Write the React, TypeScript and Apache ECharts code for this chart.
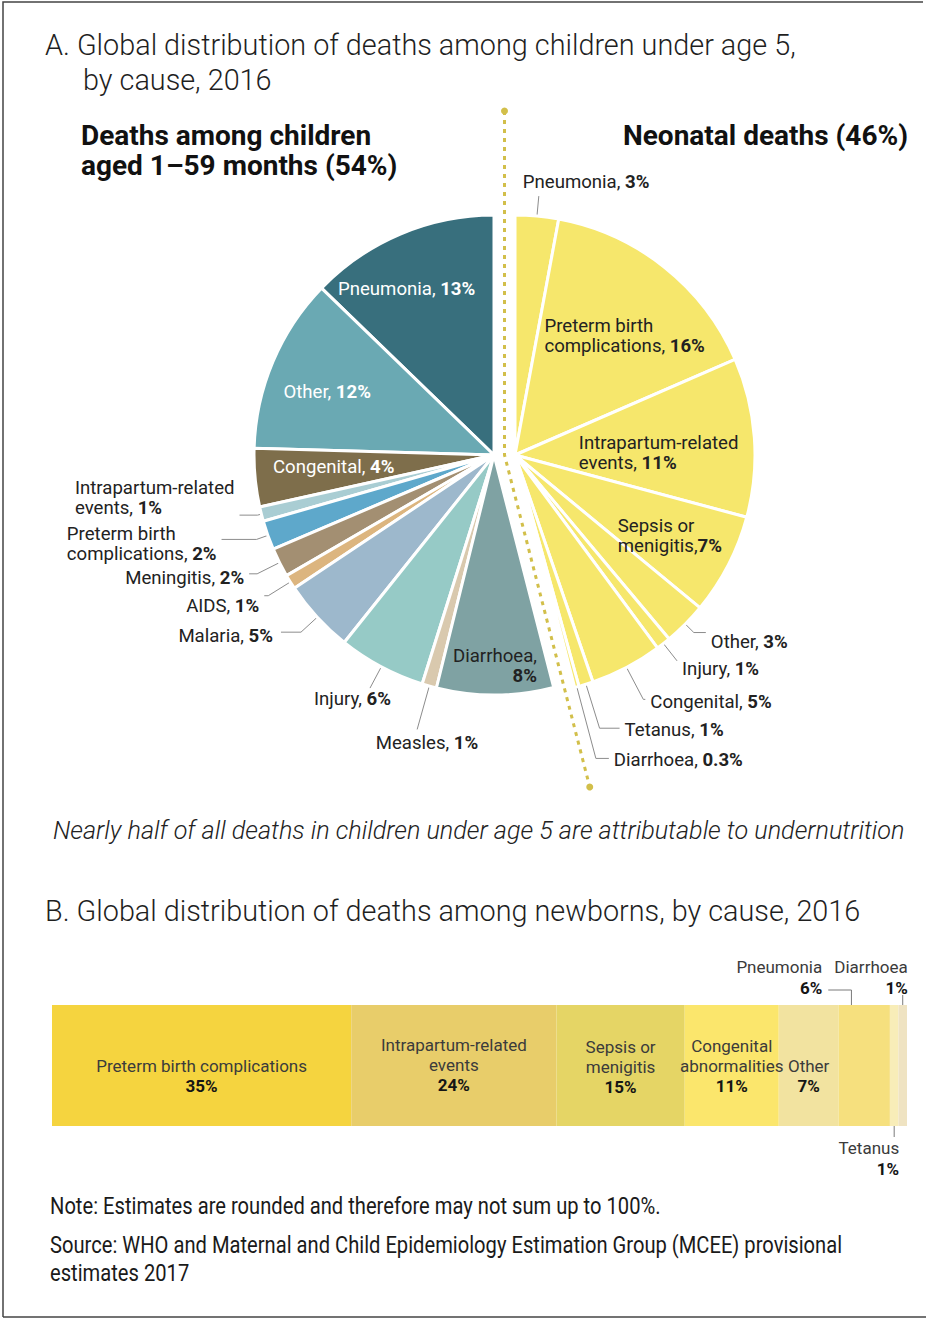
import React, { useEffect, useRef } from 'react';
import * as echarts from 'echarts';

// ---------------- Data ----------------
const childCauses = [
  'Pneumonia', 'Other', 'Congenital', 'Intrapartum-related\nevents', 'Preterm birth\ncomplications',
  'Meningitis', 'AIDS', 'Malaria', 'Injury', 'Measles', 'Diarrhoea',
];
const childValues = [13, 12, 4, 1, 2, 2, 1, 5, 6, 1, 8];
const childShare = 54;

const neonatalCauses = [
  'Pneumonia', 'Preterm birth\ncomplications', 'Intrapartum-related\nevents', 'Sepsis or\nmenigitis',
  'Other', 'Injury', 'Congenital', 'Tetanus', 'Diarrhoea',
];
const neonatalValues = [3, 16, 11, 7, 3, 1, 5, 1, 0.3];
const neonatalShare = 46;

const newbornCategory = ['Newborns'];
const newbornCauses = [
  'Preterm birth complications', 'Intrapartum-related\nevents', 'Sepsis or\nmenigitis',
  'Congenital\nabnormalities', 'Other', 'Pneumonia', 'Tetanus', 'Diarrhoea',
];
const newbornValues = [35, 24, 15, 11, 7, 6, 1, 1];

const noteLines = [
  'Note: Estimates are rounded and therefore may not sum up to 100%.',
  'Source: WHO and Maternal and Child Epidemiology Estimation Group (MCEE) provisional',
  'estimates 2017',
];

// ---------------- Styles / layout ----------------
const FONT = 'Roboto, "Noto Sans", sans-serif';
const PIE_R = 240;
const CHILD_CENTER: [number, number] = [494, 455];
const NEO_CENTER: [number, number] = [515, 455];
const DIVIDER_TOP = 111;
const DIVIDER_BOTTOM = 787;
const BAR_GRID = { left: 52, top: 1005, width: 855, height: 121 };
const PIE_FONT = 18.6;
const PIE_LH = 20;
const BAR_FONT = 17;
const NOTE_FONT = 24;
const NOTE_X = 50;
const NOTE_Y = [1205, 1244, 1272];
const NOTE_REF_WIDTH = 792; // width of the "Source" line

const childColors = [
  '#386f7d', '#6aa9b3', '#7e6e4b', '#a9cdd3', '#5ea8cb', '#a38f72',
  '#dcb57f', '#9db8cc', '#96cac6', '#d9c9ae', '#7fa2a3',
];
const neonatalColor = '#f6e76c';
const newbornColors = ['#f5d43f', '#e8cd6a', '#e5d565', '#fbe66c', '#f2e3a0', '#f6e07e', '#f8edb8', '#efe3c2'];
const dividerColor = '#d2bf4a';

type LabelCfg = {
  inside?: boolean; r?: number; len?: number; len2?: number; dx?: number; dy?: number;
  light?: boolean; align?: 'left' | 'right' | 'center'; pctBreak?: boolean; sep?: string;
};

const childLabelCfg: LabelCfg[] = [
  { inside: true, r: 188, light: true, dx: -14, dy: 7 },
  { inside: true, r: 181, light: true, dy: 7 },
  { inside: true, r: 161, light: true, dy: -3 },
  { len: 4, len2: 18, dy: -17 },
  { len: 12, len2: 35, dy: 5 },
  { len: 25, len2: 8, dy: 4 },
  { len: 26, len2: 4, dy: 10 },
  { len: 22, len2: 20, dx: -3, dy: 4 },
  { len: 24, len2: 0, dx: 26, dy: 11 },
  { len: 45, len2: 0, dx: 66, dy: 14 },
  { inside: true, r: 211, align: 'right', pctBreak: true },
];

const neonatalLabelCfg: LabelCfg[] = [
  { len: 20, len2: 0, dx: -21, dy: -14 },
  { inside: true, r: 160, dx: 10, dy: 6 },
  { inside: true, r: 140, dx: 4, dy: 8 },
  { inside: true, r: 172, sep: ',', dx: 2, dy: 2 },
  { len: 12, len2: 12, dy: 9 },
  { len: 22, len2: 0, dy: 8 },
  { len: 36, len2: 2, dy: 3 },
  { len: 46, len2: 20, dy: 2 },
  { len: 74, len2: 13, dy: 2 },
];

type BarCfg = { pos: string; align?: 'left' | 'right' | 'center'; dx?: number; dy?: number };
const newbornLabelCfg: BarCfg[] = [
  { pos: 'inside', dy: 10 },
  { pos: 'inside', dy: -1 },
  { pos: 'inside', dy: 1 },
  { pos: 'inside', dy: 0 },
  { pos: 'inside', dy: 10 },
  { pos: 'top', align: 'right', dx: -42, dy: -2 },
  { pos: 'bottom', align: 'right', dx: 5, dy: 6 },
  { pos: 'top', align: 'right', dx: 5, dy: -2 },
];

function pieLabel(name: string, value: number, cfg: LabelCfg): string {
  const lines = name.split('\n');
  const head = lines.slice(0, -1).map((l) => `{nm|${l}}`);
  const last = lines[lines.length - 1];
  const pct = `{pc|${value}%}`;
  if (cfg.pctBreak) return [...head, `{nm|${last},}`, pct].join('\n');
  const sep = cfg.sep ?? ', ';
  return [...head, `{nm|${last}${sep}}${pct}`].join('\n');
}

function pieSeries(
  id: string, causes: string[], values: number[], cfgs: LabelCfg[],
  colorOf: (i: number) => string, center: [number, number],
  share: number, clockwise: boolean,
) {
  const sweep = share * 3.6;
  return {
    type: 'pie',
    id,
    center,
    radius: [0, PIE_R],
    startAngle: 90,
    endAngle: clockwise ? 90 - sweep : 90 + sweep,
    clockwise,
    avoidLabelOverlap: false,
    silent: true,
    emphasis: { disabled: true },
    itemStyle: { borderColor: '#ffffff', borderWidth: 3 },
    labelLine: { lineStyle: { color: '#8c8c8c', width: 1 } },
    data: causes.map((name, i) => {
      const cfg = cfgs[i];
      const color = cfg.light ? '#ffffff' : '#222222';
      const align = cfg.align ?? 'left';
      return {
        name,
        value: values[i],
        itemStyle: { color: colorOf(i) },
        label: {
          show: true,
          position: cfg.inside ? 'inside' : 'outside',
          formatter: pieLabel(name, values[i], cfg),
          fontFamily: FONT,
          fontSize: PIE_FONT,
          lineHeight: PIE_LH,
          color,
          rich: {
            nm: { fontFamily: FONT, fontSize: PIE_FONT, lineHeight: PIE_LH, color, align },
            pc: { fontFamily: FONT, fontSize: PIE_FONT, lineHeight: PIE_LH, color, align, fontWeight: 'bold' },
          },
        },
        labelLine: { show: !cfg.inside, length: cfg.len ?? 10, length2: cfg.len2 ?? 0 },
      };
    }),
    labelLayout: (p: any) => {
      const cfg = cfgs[p.dataIndex];
      if (!cfg) return {};
      const r = p.labelRect;
      const lx = r.x + r.width / 2;
      const ly = r.y + r.height / 2;
      if (cfg.inside && cfg.r) {
        const ddx = lx - center[0];
        const ddy = ly - center[1];
        const d = Math.hypot(ddx, ddy) || 1;
        return {
          x: center[0] + (ddx * cfg.r) / d + (cfg.dx ?? 0),
          y: center[1] + (ddy * cfg.r) / d + (cfg.dy ?? 0),
          align: 'center',
          verticalAlign: 'middle',
        };
      }
      if (!cfg.inside && (cfg.dx || cfg.dy)) {
        return {
          x: lx + (cfg.dx ?? 0),
          y: ly + (cfg.dy ?? 0),
          align: 'center',
          verticalAlign: 'middle',
          labelLinePoints: p.labelLinePoints,
        };
      }
      return {};
    },
  };
}

function barLabel(name: string, value: number): string {
  const lines = name.split('\n').map((l) => `{nm|${l}}`);
  return [...lines, `{pc|${value}%}`].join('\n');
}

const headStyle = { fontFamily: FONT, fontWeight: 300, fontSize: 28.8, lineHeight: 34, color: '#1f1f1f' };
const subStyle = { fontFamily: FONT, fontWeight: 'bold', fontSize: 28, lineHeight: 30, color: '#111111' };

function measureScale(): number {
  try {
    const ctx = document.createElement('canvas').getContext('2d');
    if (!ctx) return 0.84;
    ctx.font = `${NOTE_FONT}px Roboto`;
    const w = ctx.measureText(noteLines[1]).width;
    return w > 0 ? NOTE_REF_WIDTH / w : 0.84;
  } catch (e) {
    return 0.84;
  }
}

export default function App() {
  const ref = useRef<HTMLDivElement>(null);

  useEffect(() => {
    if (!ref.current) return;
    const chart = echarts.init(ref.current, undefined, { renderer: 'svg' });

    const barSeries = newbornCauses.map((name, i) => {
      const cfg = newbornLabelCfg[i];
      const align = cfg.align ?? 'center';
      const lh = cfg.pos === 'inside' ? 20 : 21;
      return {
        type: 'bar',
        name,
        stack: 'newborn',
        data: [newbornValues[i]],
        barWidth: '100%',
        silent: true,
        itemStyle: { color: newbornColors[i] },
        label: {
          show: true,
          position: cfg.pos,
          distance: 5,
          align,
          offset: [cfg.dx ?? 0, cfg.dy ?? 0],
          formatter: barLabel(name, newbornValues[i]),
          fontFamily: FONT,
          rich: {
            nm: { fontFamily: FONT, fontSize: BAR_FONT, lineHeight: lh, color: '#3b3b3b', align },
            pc: { fontFamily: FONT, fontSize: BAR_FONT, lineHeight: lh, color: '#151515', fontWeight: 'bold', align },
          },
        },
      };
    });

    const option: any = {
      animation: false,
      backgroundColor: '#ffffff',
      title: [
        { text: 'A. Global distribution of deaths among children under age 5,', left: 45, top: 28, padding: 0, textStyle: headStyle },
        { text: 'by cause, 2016', left: 83, top: 63, padding: 0, textStyle: headStyle },
        { text: `Deaths among children\naged 1–59 months (${childShare}%)`, left: 81, top: 120, padding: 0, textStyle: subStyle },
        { text: `Neonatal deaths (${neonatalShare}%)`, right: 18, top: 120, padding: 0, textStyle: subStyle },
        {
          text: 'Nearly half of all deaths in children under age 5 are attributable to undernutrition',
          left: 53, top: 815, padding: 0,
          textStyle: { fontFamily: FONT, fontStyle: 'italic', fontWeight: 300, fontSize: 25.2, lineHeight: 30, color: '#222222' },
        },
        { text: 'B. Global distribution of deaths among newborns, by cause, 2016', left: 45, top: 894, padding: 0, textStyle: headStyle },
      ],
      grid: { ...BAR_GRID },
      xAxis: { type: 'value', min: 0, max: 100, show: false },
      yAxis: { type: 'category', data: newbornCategory, show: false },
      series: [
        pieSeries('children', childCauses, childValues, childLabelCfg, (i) => childColors[i], CHILD_CENTER, childShare, false),
        pieSeries('neonatal', neonatalCauses, neonatalValues, neonatalLabelCfg, () => neonatalColor, NEO_CENTER, neonatalShare, true),
        ...barSeries,
      ],
    };
    chart.setOption(option);

    // ---- graphics derived from layout + data ----
    const divX = (CHILD_CENTER[0] + NEO_CENTER[0]) / 2;
    const cy = CHILD_CENTER[1];
    const theta = (neonatalShare * 3.6 * Math.PI) / 180;
    const dirX = Math.sin(theta);
    const dirY = -Math.cos(theta);
    const len = (DIVIDER_BOTTOM - cy) / dirY;
    const bottomPt = [divX + dirX * len, cy + dirY * len];

    const px = (v: number) => chart.convertToPixel({ xAxisIndex: 0, yAxisIndex: 0 }, [v, newbornCategory[0]]) as number[];
    const starts: number[] = [];
    newbornValues.reduce((acc, v, i) => { starts[i] = acc; return acc + v; }, 0);
    const seg = (i: number) => {
      const a = px(starts[i]);
      const b = px(starts[i] + newbornValues[i]);
      return { x0: a[0], x1: b[0], cx: (a[0] + b[0]) / 2, cyv: a[1] };
    };
    const pn = seg(5);
    const te = seg(6);
    const di = seg(7);
    const barTop = pn.cyv - BAR_GRID.height / 2;
    const barBottom = pn.cyv + BAR_GRID.height / 2;
    const leader = { stroke: '#7a7a7a', lineWidth: 1, fill: null };
    const pnLabelRight = pn.cx + (newbornLabelCfg[5].dx ?? 0);
    const pnVx = pn.x0 + (pn.x1 - pn.x0) * 0.25;

    const noteScale = measureScale();
    const noteTexts = noteLines.map((t, i) => ({
      type: 'text',
      silent: true,
      x: NOTE_X,
      y: NOTE_Y[i],
      scaleX: noteScale,
      style: {
        text: t,
        fontFamily: 'Roboto',
        fontSize: NOTE_FONT,
        fill: '#1a1a1a',
        textAlign: 'left',
        textVerticalAlign: 'middle',
      },
    }));

    chart.setOption({
      graphic: {
        elements: [
          { type: 'polyline', silent: true, shape: { points: [[3, 1317], [3, 2], [923, 2]] }, style: { stroke: '#444', lineWidth: 1.5, fill: null } },
          { type: 'line', silent: true, shape: { x1: 3, y1: 1317, x2: 926, y2: 1317 }, style: { stroke: '#444', lineWidth: 1.5 } },
          {
            type: 'polyline', silent: true,
            shape: { points: [[divX, DIVIDER_TOP], [divX, cy], bottomPt] },
            style: { stroke: dividerColor, lineWidth: 3, lineDash: [4, 5], fill: null },
          },
          { type: 'circle', silent: true, shape: { cx: divX, cy: DIVIDER_TOP, r: 3.5 }, style: { fill: dividerColor } },
          { type: 'circle', silent: true, shape: { cx: bottomPt[0], cy: bottomPt[1], r: 3.5 }, style: { fill: dividerColor } },
          {
            type: 'polyline', silent: true,
            shape: { points: [[pnLabelRight + 6, barTop - 15], [pnVx, barTop - 15], [pnVx, barTop]] },
            style: leader,
          },
          { type: 'line', silent: true, shape: { x1: di.cx, y1: barTop, x2: di.cx, y2: barTop - 10 }, style: leader },
          { type: 'line', silent: true, shape: { x1: te.cx, y1: barBottom, x2: te.cx, y2: barBottom + 11 }, style: leader },
          ...noteTexts,
        ],
      },
    });

    return () => chart.dispose();
  }, []);

  return (
    <div
      ref={ref}
      style={{ position: 'absolute', left: 0, top: 0, width: 926, height: 1320, background: '#ffffff' }}
    />
  );
}
